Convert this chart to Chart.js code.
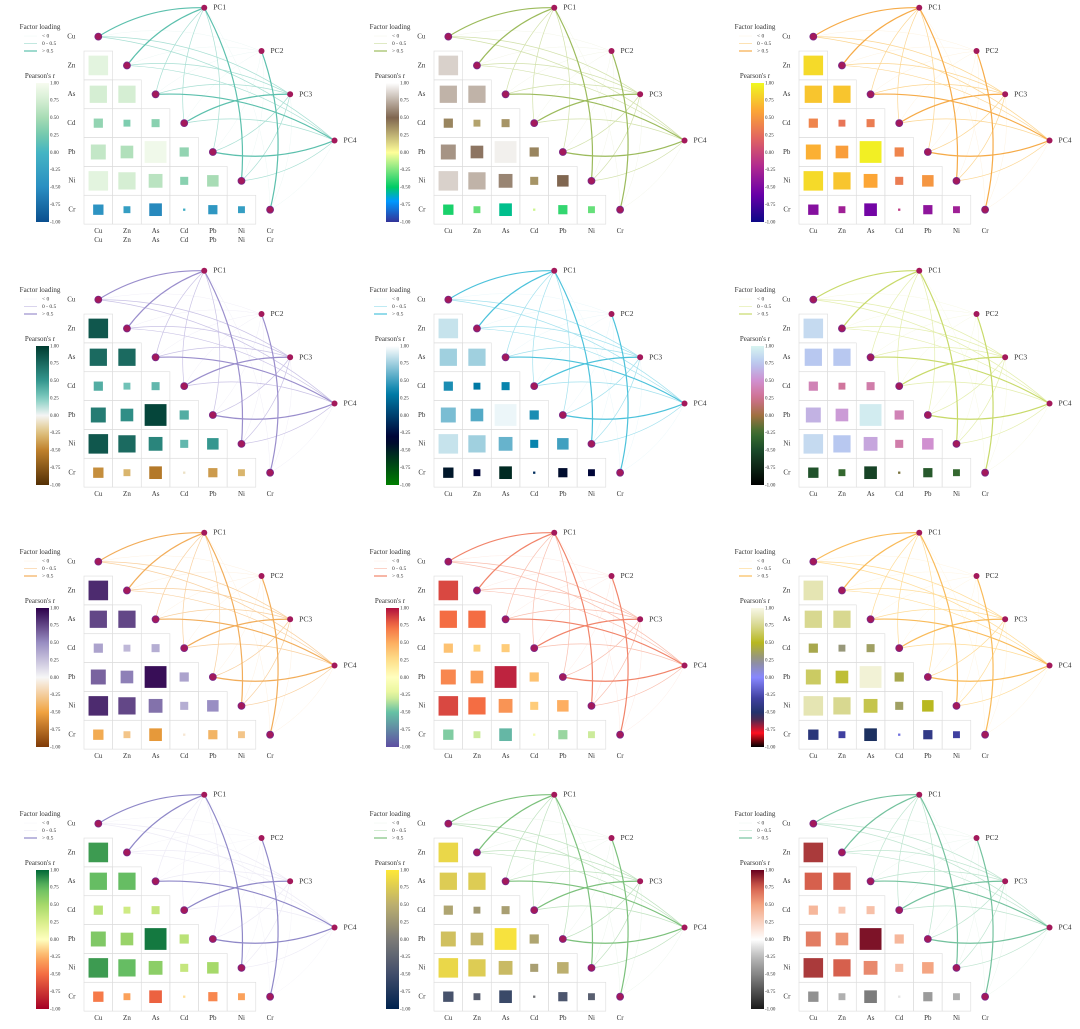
<!DOCTYPE html>
<html><head><meta charset="utf-8">
<script src="https://cdn.jsdelivr.net/npm/chart.js@4"></script>
<style>body{margin:0;background:#fff;width:1080px;height:1029px;position:relative;overflow:hidden}canvas{position:absolute}</style>
</head><body>
<script>
const variables = ['Cu','Zn','As','Cd','Pb','Ni','Cr'];
const corrRows = [
  [],
  [0.85],
  [0.75,0.75],
  [0.40,0.30,0.35],
  [0.65,0.55,0.95,0.40],
  [0.85,0.75,0.60,0.35,0.50],
  [-0.45,-0.30,-0.55,-0.10,-0.40,-0.30]
];
const pcs = ['PC1','PC2','PC3','PC4'];
const loadings = [
  [0.85,-0.2,0.30,0.35],
  [0.80,-0.1,0.30,0.30],
  [0.40,-0.2,0.30,0.75],
  [0.35,-0.1,0.80,0.30],
  [0.30,-0.2,0.25,0.80],
  [0.85,-0.1,0.25,0.30],
  [-0.2,0.90,-0.1,-0.2]
];
const cbTicks = ['1.00','0.75','0.50','0.25','0.00','-0.25','-0.50','-0.75','-1.00'];
const legendLabels = ['< 0','0 - 0.5','> 0.5'];
// layout (not data)
const pcPos = [[3.7,-1],[5.7,0.5],[6.7,2],[8.25,3.6]];
const offX = [0,350,715], offY = [0,263,525,787];
const cmaps = [
 [[-1,'#0b4f8f'],[-0.5,'#2a8fc2'],[0,'#45b5c4'],[0.25,'#74c9ad'],[0.5,'#a8dcb5'],[0.75,'#d5eed3'],[1,'#f7fcf0']],
 [[-1,'#333399'],[-0.7,'#0099ff'],[-0.5,'#00cc66'],[0,'#ffff99'],[0.5,'#806650'],[1,'#ffffff']],
 [[-1,'#0d0887'],[-0.6,'#6a00a8'],[-0.2,'#b12a90'],[0.2,'#e16462'],[0.6,'#fca636'],[1,'#f0f921']],
 [[-1,'#543005'],[-0.5,'#bf812d'],[-0.25,'#dfc27d'],[0,'#f5f5f5'],[0.25,'#80cdc1'],[0.5,'#35978f'],[1,'#003c30']],
 [[-1,'#007f00'],[-0.33,'#000033'],[0.33,'#0080aa'],[1,'#ffffff']],
 [[-1,'#000000'],[-0.5,'#1a4a2a'],[-0.25,'#3a7030'],[0,'#a07040'],[0.25,'#d07090'],[0.5,'#d090d0'],[0.75,'#b8c8f0'],[1,'#d8f5f0']],
 [[-1,'#7f3b08'],[-0.5,'#f1a340'],[0,'#f7f7f7'],[0.5,'#998ec3'],[1,'#2d004b']],
 [[-1,'#5e4fa2'],[-0.5,'#66c2a5'],[-0.25,'#e6f598'],[0,'#ffffbf'],[0.25,'#fee08b'],[0.5,'#fdae61'],[0.75,'#f46d43'],[1,'#b0103e']],
 [[-1,'#000000'],[-0.8,'#ff1020'],[-0.55,'#1c3060'],[-0.3,'#4040a0'],[0,'#8888ff'],[0.25,'#909090'],[0.5,'#b8b820'],[0.75,'#d8d890'],[1,'#f8f8e8']],
 [[-1,'#a50026'],[-0.5,'#f46d43'],[-0.25,'#fdae61'],[0,'#ffffbf'],[0.25,'#d9ef8b'],[0.5,'#a6d96a'],[0.75,'#66bd63'],[1,'#006837']],
 [[-1,'#00224e'],[-0.5,'#414d6b'],[0,'#7c7b78'],[0.5,'#bcaf6f'],[1,'#fee838']],
 [[-1,'#1a1a1a'],[-0.5,'#878787'],[-0.25,'#bababa'],[0,'#ffffff'],[0.5,'#f4a582'],[0.75,'#d6604d'],[1,'#67001f']]
];
const linkCols = [
 ['#eef8f6','#a8dfd3','#5cc0ad'],['#f3f6ea','#d2e1ab','#9cbb5c'],['#fef3e2','#fcd692','#f6ab48'],
 ['#f1eff8','#c9c2e5','#9a8ecc'],['#ebf8fb','#a3e1ee','#4cc2db'],['#f7f9e6','#e4eeae','#c8da6a'],
 ['#fef1e2','#f9d09f','#f2ad5a'],['#feece6','#f9bfaf','#f1846a'],['#fff6e4','#ffdc98','#f9bb5a'],
 ['#f6f5fa','#eeecf6','#8f88c8'],['#edf6ed','#bfe2bf','#7cc17c'],['#edf7f0','#bfe5d0','#74c29e']
];
function hex(h){return [parseInt(h.slice(1,3),16),parseInt(h.slice(3,5),16),parseInt(h.slice(5,7),16)];}
function cmap(stops,r){
  for(let i=0;i<stops.length-1;i++){const [a,ca]=stops[i],[b,cb]=stops[i+1];
    if(r<=b||i==stops.length-2){const t=Math.max(0,Math.min(1,(r-a)/(b-a)));const A=hex(ca),B=hex(cb);
      return `rgb(${A.map((v,k)=>Math.round(v+(B[k]-v)*t)).join(',')})`;}}
}
const FONT='"Liberation Serif", serif';
const LW=[0.5,0.7,1.2];
function makePanel(idx){
  const cv=document.createElement('canvas');cv.width=360;cv.height=262;
  cv.style.left=offX[idx%3]+'px';cv.style.top=offY[Math.floor(idx/3)]+'px';
  cv.style.width='360px';cv.style.height='262px';
  document.body.appendChild(cv);
  const stops=cmaps[idx], lc=linkCols[idx];
  const sq=[];corrRows.forEach((row,i)=>row.forEach((r,j)=>sq.push({x:j,y:i,r})));
  const diag=variables.map((v,i)=>({x:i,y:i}));
  const pcd=pcPos.map(p=>({x:p[0],y:p[1]}));
  const plug={id:'deco',
    beforeDatasetsDraw(ch){
      const c=ch.ctx,xs=ch.scales.x,ys=ch.scales.y;
      const X=v=>xs.getPixelForValue(v),Y=v=>ys.getPixelForValue(v);
      c.save();c.strokeStyle='#dcdcdc';c.lineWidth=0.6;
      corrRows.forEach((row,i)=>row.forEach((r,j)=>{c.strokeRect(X(j-0.5),Y(i-0.5),X(j+0.5)-X(j-0.5),Y(i+0.5)-Y(i-0.5));}));
      for(const cls of [0,1,2]){
        loadings.forEach((L,i)=>L.forEach((v,k)=>{
          const cl=v<0?0:(v<=0.5?1:2); if(cl!==cls)return;
          const x0=X(i),y0=Y(i),x1=X(pcPos[k][0]),y1=Y(pcPos[k][1]);
          const dx=x1-x0,dy=y1-y0,s=i<=3?1:-1,f=0.15;
          const cx=(x0+x1)/2+s*dy*f,cy=(y0+y1)/2-s*dx*f;
          c.beginPath();c.moveTo(x0,y0);c.quadraticCurveTo(cx,cy,x1,y1);
          c.strokeStyle=lc[cl];c.lineWidth=LW[cl];c.stroke();
        }));
      }
      c.restore();
    },
    afterDatasetsDraw(ch){
      const c=ch.ctx,xs=ch.scales.x,ys=ch.scales.y;
      const X=v=>xs.getPixelForValue(v),Y=v=>ys.getPixelForValue(v);
      c.save();c.fillStyle='#333';c.font='7px '+FONT;c.textBaseline='middle';
      c.textAlign='right';variables.forEach((v,i)=>c.fillText(v,X(-0.8),Y(i)));
      c.textAlign='center';variables.forEach((v,i)=>c.fillText(v,X(i),Y(6.75)));
      if(idx===0)variables.forEach((v,i)=>c.fillText(v,X(i),Y(7.05)));
      c.textAlign='left';c.font='7.5px '+FONT;pcs.forEach((p,k)=>c.fillText(p,X(pcPos[k][0])+9,Y(pcPos[k][1])));
      c.font='7px '+FONT;c.textAlign='center';c.fillStyle='#333';
      c.fillText('Factor loading',40,27);
      legendLabels.forEach((t,k)=>{const y=36+k*7.5;c.strokeStyle=lc[k];c.lineWidth=LW[k];
        c.beginPath();c.moveTo(24,y);c.lineTo(37,y);c.stroke();c.font='5.5px '+FONT;c.textAlign='left';c.fillText(t,42,y);});
      c.font='7px '+FONT;c.textAlign='center';c.fillText("Pearson's r",40,76);
      const top=83,bot=222,h=bot-top;
      const g=c.createLinearGradient(0,top,0,bot);
      for(let t=0;t<=1.0001;t+=0.05)g.addColorStop(Math.min(1,t),cmap(stops,1-2*t));
      c.fillStyle=g;c.fillRect(36,top,13,h);
      c.fillStyle='#333';c.font='5px '+FONT;c.textAlign='left';
      cbTicks.forEach((t,k)=>c.fillText(t,50,top+h*k/8));
      c.restore();
    }};
  new Chart(cv,{type:'scatter',
    data:{datasets:[
      {data:sq,pointStyle:'rect',pointRadius:ctx=>Math.abs(ctx.raw.r)*23/1.414,pointHoverRadius:ctx=>Math.abs(ctx.raw.r)*23/1.414,
       backgroundColor:ctx=>cmap(stops,ctx.raw.r),borderWidth:0},
      {data:diag,pointRadius:3.5,backgroundColor:'#a3195b',borderColor:'#7a2a8a',borderWidth:0.8},
      {data:pcd,pointRadius:3,backgroundColor:'#a3195b',borderWidth:0}
    ]},
    options:{responsive:false,animation:false,devicePixelRatio:2,
      layout:{autoPadding:false,padding:{left:84,right:4,top:2,bottom:35}},
      plugins:{legend:{display:false},tooltip:{enabled:false}},
      scales:{x:{type:'linear',min:-0.5,max:9,display:false},y:{type:'linear',min:-1.2,max:6.6,reverse:true,display:false}}},
    plugins:[plug]});
}
for(let i=0;i<12;i++)makePanel(i);
</script>
</body></html>
